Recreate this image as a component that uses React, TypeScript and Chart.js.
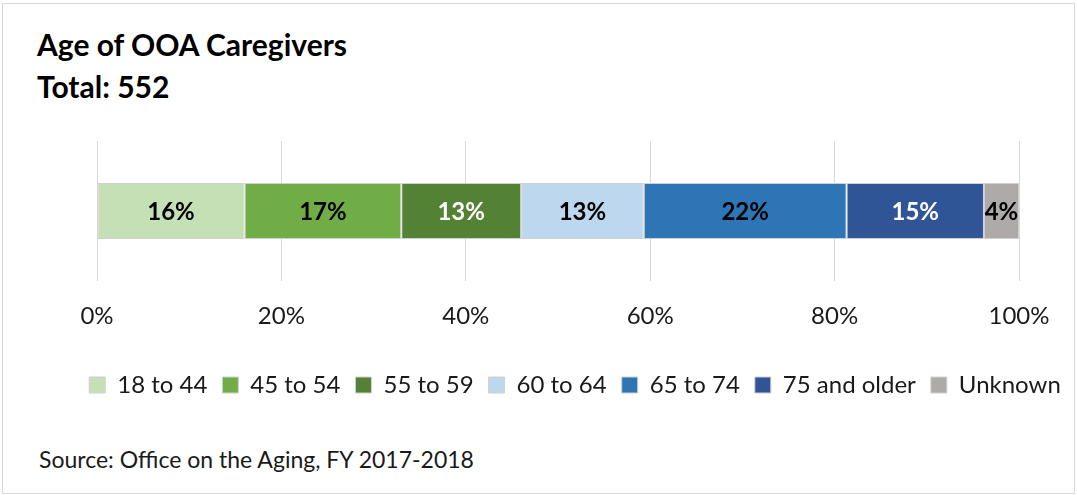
import React, { useEffect, useRef } from "react";
import { Chart, registerables } from "chart.js";

Chart.register(...registerables);

const categories = [""];
const seriesNames = ["18 to 44", "45 to 54", "55 to 59", "60 to 64", "65 to 74", "75 and older", "Unknown"];
const seriesValues = [16, 17, 13, 13.3, 22, 14.9, 3.8];
const seriesColors = ["#c5e0b4", "#70ad47", "#548235", "#bdd7ee", "#2e75b6", "#2f5597", "#aeaaaa"];
const labelColors = ["#000000", "#000000", "#ffffff", "#000000", "#000000", "#ffffff", "#000000"];
const tickValues = [0, 20, 40, 60, 80, 100];

const FONT = "Lato";

const barLabelPlugin = {
  id: "barLabels",
  afterDatasetsDraw(chart: any) {
    const ctx = chart.ctx;
    chart.data.datasets.forEach((ds: any, i: number) => {
      const meta = chart.getDatasetMeta(i);
      meta.data.forEach((el: any, j: number) => {
        const v = ds.data[j];
        const p = el.getProps(["x", "y", "base"], true);
        const cx = (p.x + p.base) / 2;
        ctx.save();
        ctx.font = `bold 24px ${FONT}`;
        ctx.fillStyle = labelColors[i];
        ctx.textAlign = "center";
        ctx.textBaseline = "middle";
        ctx.fillText(Math.round(v) + "%", cx, p.y + 1);
        ctx.restore();
      });
    });
  },
};

function App() {
  const ref = useRef<HTMLCanvasElement | null>(null);
  useEffect(() => {
    if (!ref.current) return;
    const chart = new Chart(ref.current, {
      type: "bar",
      data: {
        labels: categories,
        datasets: seriesNames.map((name, i) => ({
          label: name,
          data: [seriesValues[i]],
          backgroundColor: seriesColors[i],
          borderColor: "#d0d0d0",
          borderWidth: 1,
          borderSkipped: false,
          barPercentage: 1,
          categoryPercentage: 0.4,
        })),
      },
      options: {
        indexAxis: "y",
        animation: false,
        responsive: false,
        devicePixelRatio: 1,
        layout: { padding: { left: 73, right: 0, top: 41, bottom: 0 } },
        plugins: {
          tooltip: { enabled: false },
          legend: {
            display: true,
            position: "bottom",
            labels: {
              boxWidth: 16,
              boxHeight: 16,
              padding: 15,
              color: "#1a1a1a",
              font: { family: FONT, size: 24 },
            },
          },
        },
        scales: {
          x: {
            type: "linear",
            stacked: true,
            min: 0,
            max: 100,
            position: "bottom",
            afterBuildTicks: (s: any) => {
              s.ticks = tickValues.map((v) => ({ value: v }));
            },
            afterFit: (s: any) => {
              s.height = 77;
            },
            ticks: {
              callback: (v: any) => v + "%",
              color: "#1a1a1a",
              padding: 21,
              maxRotation: 0,
              font: { family: FONT, size: 24 },
            },
            grid: { color: "#d9d9d9", drawTicks: false },
            border: { display: false },
          },
          y: {
            stacked: true,
            position: "left",
            ticks: { display: false },
            grid: { display: false },
            border: { display: false },
            afterFit: (s: any) => {
              s.width = 24;
            },
          },
          y2: {
            type: "linear",
            position: "right",
            ticks: { display: false },
            grid: { display: false },
            border: { display: false },
            afterFit: (s: any) => {
              s.width = 58;
            },
          },
        },
      },
      plugins: [barLabelPlugin],
    } as any);
    return () => chart.destroy();
  }, []);

  return (
    <div style={{ position: "fixed", left: 0, top: 0, width: 1077, height: 495, background: "#fff", overflow: "hidden" }}>
      <div
        style={{
          position: "absolute",
          left: 2,
          top: 3,
          width: 1073,
          height: 491,
          boxSizing: "border-box",
          border: "1px solid #d9d9d9",
        }}
      />
      <div
        style={{
          position: "absolute",
          left: 37,
          top: 23,
          fontFamily: FONT,
          fontWeight: 700,
          fontSize: 30,
          lineHeight: "42px",
          color: "#000",
          whiteSpace: "nowrap",
        }}
      >
        <div>Age of OOA Caregivers</div>
        <div>Total: 552</div>
      </div>
      <canvas
        ref={ref}
        width={1077}
        height={307}
        style={{ position: "absolute", left: 0, top: 100, width: 1077, height: 307, display: "block" }}
      />
      <div
        style={{
          position: "absolute",
          left: 39,
          top: 446,
          fontFamily: FONT,
          fontSize: 23,
          lineHeight: "26px",
          color: "#1a1a1a",
          whiteSpace: "nowrap",
        }}
      >
        Source: Office on the Aging, FY 2017-2018
      </div>
    </div>
  );
}

export default App;
